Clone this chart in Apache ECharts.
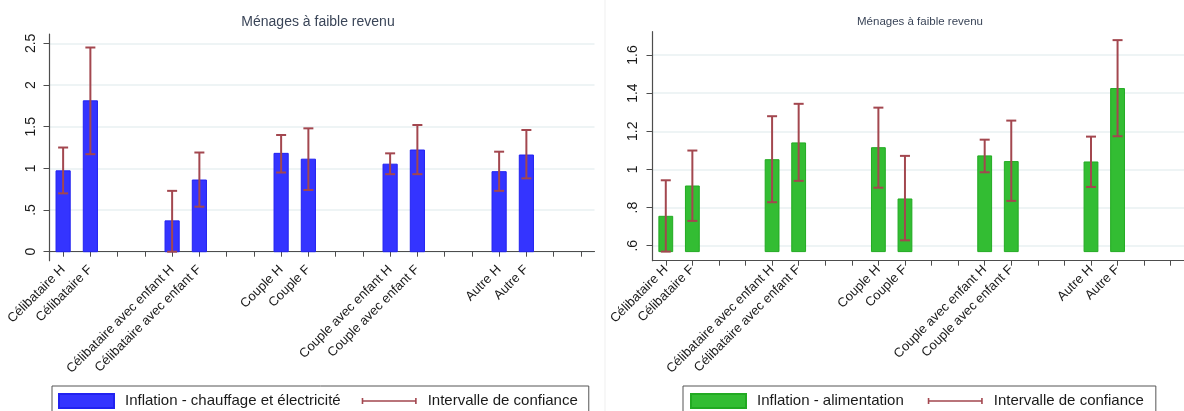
<!DOCTYPE html>
<html><head><meta charset="utf-8">
<script src="https://cdn.jsdelivr.net/npm/echarts@6/dist/echarts.min.js"></script>
<style>html,body{margin:0;padding:0;background:#fff;overflow:hidden}#c{width:1184px;height:411px}</style>
</head><body><div id="c"></div>
<script>
// ---------- data ----------
const TITLE = 'Ménages à faible revenu';
const CATEGORIES = ['Célibataire H', 'Célibataire F', 'Célibataire avec enfant H', 'Célibataire avec enfant F',
  'Couple H', 'Couple F', 'Couple avec enfant H', 'Couple avec enfant F', 'Autre H', 'Autre F'];
const LEFT_NAME = 'Inflation - chauffage et électricité';
const LEFT_VALUES = [0.97, 1.81, 0.37, 0.86, 1.18, 1.11, 1.05, 1.22, 0.96, 1.16];
const LEFT_LOW    = [0.70, 1.17, 0.00, 0.54, 0.95, 0.74, 0.93, 0.93, 0.73, 0.88];
const LEFT_HIGH   = [1.25, 2.45, 0.73, 1.19, 1.40, 1.48, 1.18, 1.52, 1.20, 1.46];
const LEFT_TICKS = [0, 0.5, 1, 1.5, 2, 2.5];
const LEFT_TICK_LABELS = ['0', '.5', '1', '1.5', '2', '2.5'];
const LEFT_BASE = 0;

const RIGHT_NAME = 'Inflation - alimentation';
const RIGHT_VALUES = [0.754, 0.913, 1.051, 1.139, 1.114, 0.845, 1.071, 1.041, 1.039, 1.424];
const RIGHT_LOW    = [0.569, 0.730, 0.828, 0.940, 0.904, 0.628, 0.985, 0.835, 0.908, 1.174];
const RIGHT_HIGH   = [0.943, 1.099, 1.279, 1.344, 1.324, 1.071, 1.156, 1.256, 1.172, 1.678];
const RIGHT_TICKS = [0.6, 0.8, 1, 1.2, 1.4, 1.6];
const RIGHT_TICK_LABELS = ['.6', '.8', '1', '1.2', '1.4', '1.6'];
const RIGHT_BASE = 0.569;

const CI_NAME = 'Intervalle de confiance';

// ---------- build ----------
// each pair (H, F) is followed by two empty slots on the axis
const SLOTS = [];
CATEGORIES.forEach((c, i) => { SLOTS.push(c); if (i % 2 === 1) { SLOTS.push(''); SLOTS.push(''); } });
const slotOf = i => Math.floor(i / 2) * 4 + (i % 2);
const SLOT_IDS = SLOTS.map((_, i) => 's' + i);

const FONT = "'Liberation Sans', Arial, sans-serif";
const ERR_COLOR = '#a3474f';
const ERR_ICON = 'path://M0,0 L1.6,0 L1.6,2.3 L53.4,2.3 L53.4,0 L55,0 L55,6 L53.4,6 L53.4,3.7 L1.6,3.7 L1.6,6 L0,6 Z';

function barRender(base, fill, stroke) {
  return function (params, api) {
    const x = api.value(0), v = api.value(1);
    const top = api.coord([x, v]);
    const bot = api.coord([x, base]);
    const w = api.size([1, 0])[0] * 0.52;
    return { type: 'rect', shape: { x: top[0] - w / 2, y: top[1], width: w, height: bot[1] - top[1] },
      style: { fill: fill, stroke: stroke, lineWidth: 1 } };
  };
}
function errRender(params, api) {
  const x = api.value(0);
  const lo = api.coord([x, api.value(1)]);
  const hi = api.coord([x, api.value(2)]);
  const cw = 5;
  const st = { stroke: ERR_COLOR, lineWidth: 2, fill: null };
  return { type: 'group', children: [
    { type: 'line', shape: { x1: lo[0], y1: lo[1], x2: hi[0], y2: hi[1] }, style: st },
    { type: 'line', shape: { x1: lo[0] - cw, y1: lo[1], x2: lo[0] + cw, y2: lo[1] }, style: st },
    { type: 'line', shape: { x1: hi[0] - cw, y1: hi[1], x2: hi[0] + cw, y2: hi[1] }, style: st }
  ] };
}

function xAxis(gi) {
  return {
    type: 'category', gridIndex: gi, data: SLOT_IDS, boundaryGap: true,
    axisLine: { lineStyle: { color: '#4d4d4d', width: 1.2 } },
    axisTick: { show: true, interval: 0, alignWithLabel: true, length: 5, lineStyle: { color: '#4d4d4d' } },
    axisLabel: { interval: 0, rotate: 45, margin: 7, fontSize: 13, color: '#1a1a1a', fontFamily: FONT,
      formatter: (v, i) => SLOTS[i] },
    splitLine: { show: false }
  };
}
function yAxis(gi, min, max, ticks, labels, margin) {
  return {
    type: 'value', gridIndex: gi, min: min, max: max,
    axisLine: { show: true, lineStyle: { color: '#4d4d4d', width: 1.2 } },
    axisTick: { show: true, length: 6, customValues: ticks, lineStyle: { color: '#4d4d4d' } },
    axisLabel: { rotate: 90, margin: margin, fontSize: 14, color: '#1a1a1a', fontFamily: FONT,
      customValues: ticks, formatter: v => labels[ticks.findIndex(t => Math.abs(t - v) < 1e-9)] },
    splitLine: { show: true, lineStyle: { color: '#e9f0f2', width: 1.5 } }
  };
}

const leftBars = CATEGORIES.map((c, i) => [slotOf(i), LEFT_VALUES[i]]);
const leftErr = CATEGORIES.map((c, i) => [slotOf(i), LEFT_LOW[i], LEFT_HIGH[i]]);
const rightBars = CATEGORIES.map((c, i) => [slotOf(i), RIGHT_VALUES[i]]);
const rightErr = CATEGORIES.map((c, i) => [slotOf(i), RIGHT_LOW[i], RIGHT_HIGH[i]]);

const legendCommon = {
  orient: 'horizontal', itemWidth: 55, itemHeight: 14,
  backgroundColor: '#fff', borderColor: '#555', borderWidth: 1, borderRadius: 0,
  textStyle: { fontSize: 15, color: '#1a1a1a', fontFamily: FONT, padding: [0, 0, 0, 6] },
  selectedMode: false
};

const option = {
  animation: false,
  backgroundColor: '#fff',
  grid: [
    { left: 49.5, top: 34, width: 545, height: 226.7, containLabel: false },
    { left: 652.5, top: 31.7, width: 540, height: 229, containLabel: false }
  ],
  xAxis: [xAxis(0), xAxis(1)],
  yAxis: [
    yAxis(0, -0.108, 2.612, LEFT_TICKS, LEFT_TICK_LABELS, 11),
    yAxis(1, 0.5213, 1.7222, RIGHT_TICKS, RIGHT_TICK_LABELS, 12)
  ],
  legend: [
    Object.assign({}, legendCommon, { left: 52, top: 386, itemGap: 21, padding: [7, 11, 12, 6],
      data: [{ name: LEFT_NAME, icon: 'rect' }, { name: CI_NAME, icon: ERR_ICON, itemStyle: { borderWidth: 0 } }] }),
    Object.assign({}, legendCommon, { left: 683, top: 386, itemGap: 24, padding: [7, 12, 12, 7],
      data: [{ name: RIGHT_NAME, icon: 'rect' }, { name: CI_NAME, icon: ERR_ICON, itemStyle: { borderWidth: 0 } }] })
  ],
  graphic: [
    { type: 'text', x: 318, y: 22, style: { text: TITLE, fontSize: 14, fill: '#3a4558', fontFamily: FONT, textAlign: 'center', textVerticalAlign: 'middle' } },
    { type: 'text', x: 920, y: 22, style: { text: TITLE, fontSize: 11.5, fill: '#3a4558', fontFamily: FONT, textAlign: 'center', textVerticalAlign: 'middle' } },
    { type: 'line', shape: { x1: 605, y1: 0, x2: 605, y2: 411 }, style: { stroke: '#efefef', lineWidth: 1 } }
  ],
  series: [
    { type: 'custom', name: LEFT_NAME, xAxisIndex: 0, yAxisIndex: 0, data: leftBars, encode: { x: 0, y: 1 },
      itemStyle: { color: '#3434ff', borderColor: '#2222f0', borderWidth: 1 }, renderItem: barRender(LEFT_BASE, '#3434ff', '#2222f0') },
    { type: 'custom', name: CI_NAME, xAxisIndex: 0, yAxisIndex: 0, data: leftErr, encode: { x: 0, y: [1, 2] },
      itemStyle: { color: ERR_COLOR }, renderItem: errRender, z: 3 },
    { type: 'custom', name: RIGHT_NAME, xAxisIndex: 1, yAxisIndex: 1, data: rightBars, encode: { x: 0, y: 1 },
      itemStyle: { color: '#33bd33', borderColor: '#22aa22', borderWidth: 1 }, renderItem: barRender(RIGHT_BASE, '#33bd33', '#22aa22') },
    { type: 'custom', name: CI_NAME, xAxisIndex: 1, yAxisIndex: 1, data: rightErr, encode: { x: 0, y: [1, 2] },
      itemStyle: { color: ERR_COLOR }, renderItem: errRender, z: 3 }
  ]
};

const chart = echarts.init(document.getElementById('c'), null, { renderer: 'canvas' });
chart.setOption(option);
</script></body></html>
